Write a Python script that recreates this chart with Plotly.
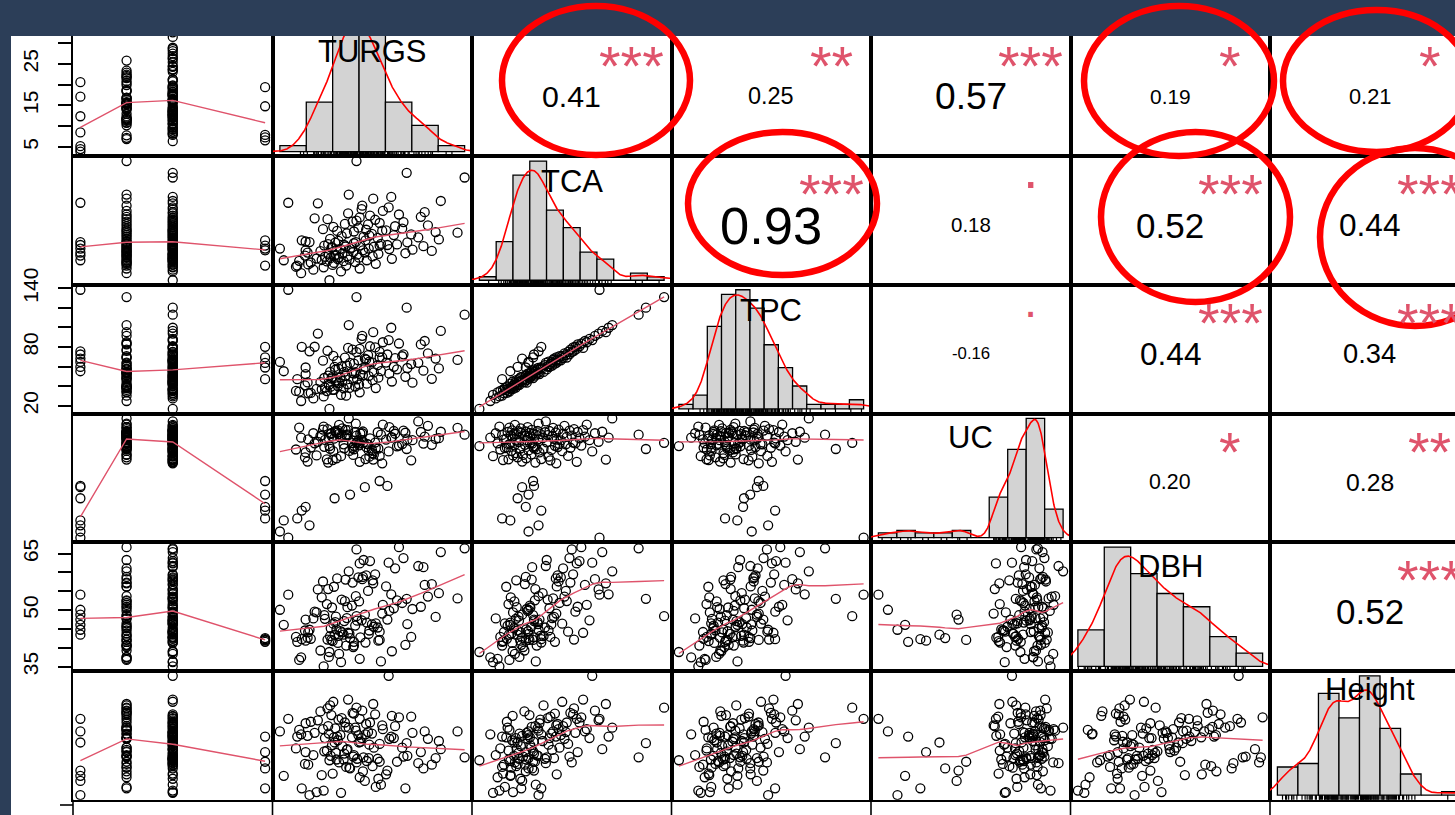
import numpy as np
import plotly.graph_objects as go

# ---------------------------------------------------------------- data ----
GROUP = [1, 1, 1, 1, 1, 1, 1,
         5, 5, 5, 5, 5,
         3, 2, 3, 3, 2, 3, 3, 2, 3, 3, 2,
         2, 3, 2, 3, 3, 2, 3, 3, 2, 3, 3, 3, 2, 3, 3, 2, 3, 3, 2, 3, 3, 2, 3, 3, 2, 3, 2,
         2, 3, 2, 3, 3, 2, 3, 3, 2, 3, 3, 2, 3, 3, 2, 3, 3, 2, 3, 3, 2, 3, 3, 2, 3, 2, 3,
         3, 2, 3, 3, 2, 3, 3, 2, 3, 3, 2, 3, 3, 2, 3, 3, 2, 3, 3, 2,
         3, 3, 2, 3, 3, 2, 3, 3, 2, 3, 3, 2, 3, 3, 2,
         3, 2, 3, 3, 2, 3, 3, 2, 3, 3, 2, 3, 2, 3, 3, 2]

TURGS = [3.9, 4.5, 5.2, 8.5, 12.4, 17.1, 20.6,
         6.6, 7.3, 7.9, 14.8, 19.4,
         11.6, 7.2, 13.4, 9.1, 16.3, 10.7, 6.4, 14.2, 12.1, 8.3, 18.8,
         12.3, 8.7, 15.6, 11.2, 13.8, 6.9, 17.4, 10.4, 14.7, 12.9, 21.3, 9.6, 11.8, 16.2,
         13.1, 10.9, 18.3, 14.4, 7.8, 12.6, 15.9, 11.5, 19.2, 13.6, 23.4, 8.2, 15.3,
         10.2, 27.5, 16.8, 12.7, 24.5, 20.9, 13.3, 17.7, 11.9, 15.1, 12.0, 18.5, 14.1, 26.2,
         10.8, 16.4, 13.9, 22.1, 11.4, 19.6, 15.4, 12.5, 23.7, 15.7, 7.9, 13.0, 17.2,
         28.6, 11.7, 19.1, 25.4, 16.9, 13.5, 17.8, 21.6, 24.3, 18.2, 14.3, 31.5, 28.1, 15.4,
         12.8, 19.8, 20.4, 17.3, 10.6, 22.9,
         16.1, 12.2, 21.8, 26.9, 17.6, 14.0, 19.4, 23.1, 15.2, 15.8, 18.7, 11.3, 9.3, 16.3, 25.8,
         17.9, 22.4, 14.5, 26.4, 19.9, 16.6, 20.8, 16.7, 9.8, 28.9, 18.4, 21.2, 14.6, 32.6, 23.6, 15.8]

TCA = [6.5, 4.5, 14.3, 7.6, 5.3, 5.8, 7.1,
       3.6, 7.9, 6.2, 6.5, 7.0,
       1.1, 2.3, 2.6, 2.9, 3.1, 3.3, 3.4, 3.6, 3.7, 3.8, 3.9,
       4.05, 4.12, 4.2, 4.3, 4.35, 4.4, 4.5, 4.55, 4.6, 4.7, 4.75, 4.8, 4.9, 4.95, 5.0, 5.1,
       5.15, 5.2, 5.3, 5.4, 5.45, 5.5, 5.6, 5.65, 5.7, 5.8, 5.9,
       6.05, 6.1, 6.2, 6.25, 6.3, 6.4, 6.45, 6.5, 6.6, 6.65, 6.7, 6.8, 6.85, 6.9, 7.0, 7.05,
       7.1, 7.2, 7.25, 7.3, 7.4, 7.5, 7.55, 7.6, 7.7, 7.8, 7.9,
       8.05, 8.15, 8.3, 8.4, 8.5, 8.6, 8.7, 8.8, 8.9, 9.0, 9.1, 9.2, 9.3, 9.4, 9.5, 9.55,
       9.6, 9.7, 9.8, 9.9,
       10.05, 10.2, 10.3, 10.45, 10.6, 10.7, 10.85, 11.0, 11.1, 11.25, 11.4, 11.5, 11.65, 11.8, 11.9,
       12.1, 12.3, 12.5, 12.7, 12.9, 13.2, 13.5, 13.8, 14.2, 14.6, 15.0, 15.3, 15.7, 18.6, 19.4, 21.4]

TPC = [64.8, 55.3, 138.5, 75.6, 59.7, 68.2, 72.4,
       47.2, 80.2, 59.1, 63.8, 69.4,
       16.8, 24.9, 31.2, 27.5, 33.8, 29.6, 35.2, 30.3, 36.4, 32.7, 38.1,
       36.2, 33.1, 39.7, 35.0, 37.9, 34.4, 42.6, 36.8, 38.3, 40.1, 44.8, 37.2, 39.5, 41.7,
       43.3, 38.6, 46.2, 42.0, 40.9, 44.5, 47.1, 41.4, 48.7, 45.3, 49.6, 43.9, 46.8,
       44.1, 47.5, 51.2, 46.0, 43.6, 52.8, 48.9, 50.4, 47.8, 53.6, 49.3, 54.2, 50.7, 55.9,
       48.4, 52.1, 54.7, 57.3, 50.9, 55.4, 53.0, 56.8, 58.6, 54.0, 52.4, 57.9, 59.4,
       58.2, 54.6, 61.5, 63.9, 57.1, 60.3, 65.2, 59.8, 62.7, 64.4, 61.1, 66.8, 68.2, 63.0,
       65.9, 69.4, 64.1, 67.3, 66.1, 70.6,
       66.4, 70.9, 68.7, 73.5, 71.8, 69.2, 75.1, 72.6, 77.4, 74.8, 79.6, 76.2, 80.3, 78.1, 82.7,
       80.8, 83.6, 79.1, 86.2, 84.9, 88.4, 87.1, 91.5, 93.8, 96.5, 95.2, 99.7, 102.4, 113.1, 120.2, 131.0]

UC = [43.5, 48.0, 41.0, 46.0, 57.0, 61.5, 62.0,
      48.8, 52.0, 53.5, 58.5, 64.0,
      78.2, 81.6, 74.1, 83.4, 79.3, 86.1, 76.8, 82.7, 72.5, 80.9, 77.4,
      81.2, 77.6, 83.9, 72.8, 78.9, 85.7, 79.1, 82.5, 76.2, 84.6, 81.8, 74.4, 83.1, 78.5,
      86.8, 80.7, 75.3, 82.9, 73.6, 84.2, 79.8, 81.5, 77.2, 85.4, 83.6, 71.9, 74.6,
      82.3, 78.7, 84.1, 73.2, 80.6, 85.9, 81.7, 76.4, 83.5, 79.4, 82.1, 74.8, 84.8, 79.2,
      77.9, 83.3, 77.3, 78.1, 71.5, 82.8, 76.9, 84.4, 80.9, 87.3, 75.6, 83.0, 72.9,
      81.4, 77.1, 83.8, 88.2, 79.7, 82.6, 73.9, 84.3, 72.4, 76.6, 82.2, 85.6, 81.1, 78.3,
      83.7, 71.2, 80.8, 77.8, 84.9, 79.0,
      80.5, 76.1, 83.2, 86.4, 78.9, 81.9, 74.2, 84.5, 77.5, 82.4, 79.6, 85.1, 79.3, 71.8, 83.9,
      81.3, 78.4, 84.7, 82.0, 86.9, 80.6, 76.0, 83.4, 79.9, 84.0, 72.7, 81.6, 89.4, 82.8, 77.0, 79.5]

DBH = [50.1, 46.1, 54.1, 44.8, 43.5, 48.8, 47.5,
       41.6, 42.3, 41.9, 42.6, 42.1,
       38.9, 37.5, 36.2, 47.8, 37.1, 35.1, 42.9, 40.6, 41.8, 44.2, 46.5,
       56.2, 42.4, 45.9, 51.6, 43.5, 36.8, 46.7, 53.4, 43.8, 41.3, 39.1, 49.4, 45.2, 52.3,
       38.4, 47.7, 57.9, 50.8, 44.6, 48.3, 47.2, 37.6, 41.9, 44.1, 40.8, 42.7, 40.2,
       39.3, 56.9, 58.8, 44.9, 50.3, 49.8, 44.4, 43.7, 42.1, 51.2, 50.7, 45.6, 58.1, 61.4,
       48.7, 42.8, 47.1, 52.6, 55.6, 36.4, 40.6, 46.8, 46.3, 53.7, 47.5, 43.2, 41.4,
       54.5, 43.1, 45.4, 61.7, 63.3, 52.8, 44.6, 50.5, 42.9, 46.2, 47.9, 53.1, 48.2, 41.6,
       58.4, 49.1, 56.3, 59.2, 57.6, 51.9,
       58.7, 46.4, 61.1, 53.6, 55.1, 52.4, 44.3, 63.8, 57.3, 66.1, 59.5, 42.2, 49.6, 62.4, 50.9,
       63.0, 66.7, 44.0, 56.7, 51.4, 47.3, 62.6, 58.2, 55.5, 65.4, 57.1, 54.2, 60.3, 66.4, 53.0, 48.4]

HEIGHT = [15.1, 9.1, 16.8, 6.5, 13.6, 8.4, 9.8,
          14.4, 7.4, 12.3, 10.1, 11.0,
          11.2, 14.7, 6.8, 11.9, 8.9, 7.1, 12.8, 10.3, 9.4, 10.6, 7.6,
          14.3, 16.4, 15.6, 12.5, 11.3, 15.3, 11.1, 9.2, 10.2, 13.9, 17.2, 6.9, 11.8, 13.6,
          10.9, 14.2, 10.4, 12.7, 10.7, 12.2, 11.4, 14.8, 8.7, 13.1, 7.4, 14.5, 11.7,
          17.8, 10.6, 9.7, 11.3, 14.9, 14.1, 14.6, 11.5, 17.3, 14.3, 13.2, 12.9, 15.7, 10.1,
          12.4, 13.7, 12.1, 11.0, 15.8, 7.9, 11.9, 15.5, 11.8, 15.2, 16.2, 16.7, 14.7,
          13.8, 18.6, 11.4, 10.8, 11.6, 16.9, 13.3, 14.2, 17.1, 14.8, 12.6, 15.1, 11.5, 17.5,
          14.4, 15.9, 9.3, 16.1, 15.4, 12.9,
          14.6, 19.1, 15.8, 14.1, 15.0, 16.3, 13.4, 11.7, 17.6, 10.9, 17.4, 18.2, 14.9, 16.8, 12.3,
          16.3, 17.0, 19.4, 15.1, 15.4, 14.2, 22.6, 17.9, 16.6, 12.7, 18.8, 14.4, 15.6, 11.6, 13.5, 18.3]

VAR_LABELS = [None, "TURGS", "TCA", "TPC", "UC", "DBH", "Height"]

# Pearson r and significance codes of the upper-triangle panels, row by row
COR_R = [0.41, 0.25, 0.57, 0.19, 0.21,
         0.93, 0.18, 0.52, 0.44,
         -0.16, 0.44, 0.34,
         0.20, 0.28,
         0.52]
COR_SIG = ["***", "**", "***", "*", "*",
           "***", ".", "***", "***",
           ".", "***", "***",
           "*", "**",
           "***"]

# left-hand axis ticks (rows 1, 3, 5); blank labels are the ones R drops
LEFT_TICKS = {
    1: ([5, 10, 15, 20, 25, 30], ["5", "", "15", "", "25", ""]),
    3: ([20, 40, 60, 80, 100, 120, 140], ["20", "", "", "80", "", "", "140"]),
    5: ([35, 40, 45, 50, 55, 60, 65], ["35", "", "", "50", "", "", "65"]),
}

# ------------------------------------------------------------- styling ----
FIG_W, FIG_H = 1455, 815
X0, CW = 73.0, 199.5          # left edge of first column, cell width (px)
Y0, CH = 27.6, 128.7          # top edge of first row, cell height (px)
NAVY = "#2c3e58"
FONT = "Liberation Sans, Arial, sans-serif"
LW = 1.6
BIN_WIDTH = [None, 5, 2, 10, 5, 5, 2]
LABEL_DY = [None, 24.4, 25.4, 25.0, 23.8, 24.3, 18.0]
BASE_CEX = 55.5
GLYPH_EM = {**{d: 0.556 for d in "0123456789"}, ".": 0.278, "-": 0.333}


def px_x(p):
    return p / FIG_W


def px_y(p):
    return 1 - p / FIG_H


def padded(v):
    lo, hi = float(np.min(v)), float(np.max(v))
    d = 0.04 * (hi - lo)
    return [lo - d, hi + d]


def hist_right_closed(v, step):
    lo = np.floor(v.min() / step) * step
    hi = np.ceil(v.max() / step) * step
    edges = np.arange(lo, hi + step / 2, step)
    idx = np.digitize(v, edges, right=True)
    idx[idx == 0] = 1
    counts = np.bincount(idx - 1, minlength=len(edges) - 1)
    return edges, counts / (len(v) * step)


def kde_nrd0(v):
    n = len(v)
    sd = np.std(v, ddof=1)
    q75, q25 = np.percentile(v, [75, 25])
    bw = 0.9 * min(sd, (q75 - q25) / 1.34) * n ** -0.2
    gx = np.linspace(v.min() - 3 * bw, v.max() + 3 * bw, 512)
    z = (gx[:, None] - v[None, :]) / bw
    gd = np.exp(-0.5 * z ** 2).sum(axis=1) / (n * bw * np.sqrt(2 * np.pi))
    return gx, gd


def r_lowess(xin, yin, f=2 / 3, iters=3):
    order = np.argsort(xin, kind="mergesort")
    x = np.asarray(xin, float)[order]
    y = np.asarray(yin, float)[order]
    n = len(x)
    rng = x[-1] - x[0]
    delta = 0.01 * rng
    ns = max(2, min(n, int(f * n + 1e-7)))
    ys = np.zeros(n)
    rw = np.ones(n)

    def lowest(xs, nleft, nright, userw):
        h = max(xs - x[nleft], x[nright] - xs)
        h9, h1 = 0.999 * h, 0.001 * h
        w = np.zeros(n)
        a = 0.0
        j = nleft
        while j < n:
            rr = abs(x[j] - xs)
            if rr <= h9:
                w[j] = 1.0 if rr <= h1 else (1 - (rr / h) ** 3) ** 3
                if userw:
                    w[j] *= rw[j]
                a += w[j]
            elif x[j] > xs:
                break
            j += 1
        nrt = j - 1
        if a <= 0:
            return None
        sl = slice(nleft, nrt + 1)
        w[sl] /= a
        if h > 0:
            a = np.sum(w[sl] * x[sl])
            b = xs - a
            c = np.sum(w[sl] * (x[sl] - a) ** 2)
            if np.sqrt(c) > 0.001 * rng:
                b /= c
                w[sl] *= b * (x[sl] - a) + 1
        return float(np.sum(w[sl] * y[sl]))

    for it in range(iters + 1):
        nleft, nright, last, i = 0, ns - 1, -1, 0
        while True:
            if nright < n - 1:
                if x[i] - x[nleft] > x[nright + 1] - x[i]:
                    nleft += 1
                    nright += 1
                    continue
            v = lowest(x[i], nleft, nright, it > 0)
            ys[i] = y[i] if v is None else v
            if last < i - 1:
                denom = x[i] - x[last]
                for j in range(last + 1, i):
                    al = (x[j] - x[last]) / denom
                    ys[j] = al * ys[i] + (1 - al) * ys[last]
            last = i
            cut = x[last] + delta
            i = last + 1
            while i < n:
                if x[i] > cut:
                    break
                if x[i] == x[last]:
                    ys[i] = ys[last]
                    last = i
                i += 1
            i = max(last + 1, i - 1)
            if last >= n - 1:
                break
        res = y - ys
        if it >= iters:
            break
        sc = np.sum(np.abs(res)) / n
        ar = np.abs(res)
        srt = np.sort(ar)
        m1 = n // 2
        cmad = 3 * (srt[m1] + srt[n - m1 - 1]) if n % 2 == 0 else 6 * srt[m1]
        if cmad < 1e-7 * sc:
            break
        c9, c1 = 0.999 * cmad, 0.001 * cmad
        rw = np.where(ar <= c1, 1.0, np.where(ar <= c9, (1 - (ar / cmad) ** 2) ** 2, 0.0))
    return x, ys


def em_width(s):
    return sum(GLYPH_EM[ch] for ch in s)


VARS = [np.asarray(v, float) for v in (GROUP, TURGS, TCA, TPC, UC, DBH, HEIGHT)]

fig = go.Figure()
axes = {}
ann = []
k = 0
cor_i = 0
W4 = em_width("0.00")

for r in range(1, 7):
    top = Y0 + (r - 1) * CH
    bot = top + CH
    for c in range(7):
        k += 1
        sfx = "" if k == 1 else str(k)
        xref, yref = "x" + sfx, "y" + sfx
        left = X0 + c * CW
        right = left + CW
        vis_right = min(right, FIG_W)
        frac = (vis_right - left) / CW

        if c < r:
            xv, yv = VARS[c], VARS[r]
            xr, yr = padded(xv), padded(yv)
            fig.add_trace(go.Scatter(
                x=xv, y=yv, mode="markers", xaxis=xref, yaxis=yref, hoverinfo="skip",
                marker=dict(symbol="circle-open", size=9, color="black", line=dict(width=1.3))))
            lx, ly = r_lowess(xv, yv)
            fig.add_trace(go.Scatter(
                x=lx, y=ly, mode="lines", xaxis=xref, yaxis=yref, hoverinfo="skip",
                line=dict(color="#DF536B", width=1.4)))
        elif c == r:
            v = VARS[r]
            step = BIN_WIDTH[r]
            edges, dens = hist_right_closed(v, step)
            span = edges[-1] - edges[0]
            xr = [edges[0] - 0.04 * span, edges[-1] + 0.04 * span]
            m = dens.max()
            yr = [-0.04 * m, 1.04 * m]
            fig.add_trace(go.Bar(
                x=(edges[:-1] + edges[1:]) / 2, y=dens, width=step, xaxis=xref, yaxis=yref,
                hoverinfo="skip",
                marker=dict(color="#D3D3D3", line=dict(color="black", width=1.3))))
            gx, gd = kde_nrd0(v)
            fig.add_trace(go.Scatter(
                x=gx, y=gd, mode="lines", xaxis=xref, yaxis=yref, hoverinfo="skip",
                line=dict(color="red", width=1.6)))
            rug_y = yr[0] + (2.0 / CH) * (yr[1] - yr[0])
            fig.add_trace(go.Scatter(
                x=v, y=[rug_y] * len(v), mode="markers", xaxis=xref, yaxis=yref,
                hoverinfo="skip",
                marker=dict(symbol="line-ns", size=4, line=dict(color="black", width=1.2))))
            ann.append(dict(
                text=VAR_LABELS[r], x=px_x(left + CW / 2), y=px_y(top + LABEL_DY[r]),
                xref="paper", yref="paper", xanchor="center", yanchor="middle",
                showarrow=False, font=dict(family=FONT, size=31, color="black")))
        else:
            xr, yr = [0.0, 1.0], [0.0, 1.0]
            fig.add_trace(go.Scatter(
                x=[0.5], y=[0.5], mode="markers", xaxis=xref, yaxis=yref, hoverinfo="skip",
                marker=dict(opacity=0)))
            rv = COR_R[cor_i]
            sig = COR_SIG[cor_i]
            cor_i += 1
            txt = f"{rv:.2f}"
            scale = W4 / em_width(txt)
            fs_num = BASE_CEX * (abs(rv) + 0.3) / 1.3 * scale
            fs_sig = BASE_CEX * scale
            ny = top + 0.5 * CH + 4 + 0.0115 * fs_num
            ann.append(dict(
                text=txt, x=px_x(left + 0.5 * CW), y=px_y(ny), xref="paper", yref="paper",
                xanchor="center", yanchor="middle", showarrow=False,
                font=dict(family=FONT, size=fs_num, color="black")))
            ref_y = bot - 0.8 * CH
            if sig == ".":
                sy = ref_y + 3.5 - 0.2965 * fs_sig
            else:
                sy = ref_y - 0.5 + 0.2285 * fs_sig
            ann.append(dict(
                text=sig, x=px_x(left + 0.8 * CW), y=px_y(sy), xref="paper", yref="paper",
                xanchor="center", yanchor="middle", showarrow=False,
                font=dict(family=FONT, size=fs_sig, color="#DF536B")))

        xr = [xr[0], xr[0] + (xr[1] - xr[0]) * frac]
        xa = dict(domain=[px_x(left), px_x(vis_right)], range=xr, anchor=yref,
                  showline=True, mirror=True, linecolor="black", linewidth=LW,
                  showgrid=False, zeroline=False, showticklabels=False, ticks="",
                  fixedrange=True, automargin=False)
        ya = dict(domain=[px_y(bot), px_y(top)], range=yr, anchor=xref,
                  showline=True, mirror=(right <= FIG_W), linecolor="black", linewidth=LW,
                  showgrid=False, zeroline=False, showticklabels=False, ticks="",
                  fixedrange=True, automargin=False)
        if c == 0 and r in LEFT_TICKS:
            tv, tt = LEFT_TICKS[r]
            ya.update(ticks="outside", ticklen=13, tickwidth=LW, tickcolor="black",
                      tickvals=tv, ticktext=tt, showticklabels=True, tickangle=-90,
                      ticklabelstandoff=12,
                      tickfont=dict(family=FONT, size=21, color="black"))
        axes["xaxis" + sfx] = xa
        axes["yaxis" + sfx] = ya

# frame around the figure, the red highlight rings, and the edge of the next row
shapes = [
    dict(type="rect", xref="paper", yref="paper", x0=0, x1=px_x(11), y0=0, y1=1,
         fillcolor=NAVY, line=dict(width=0), layer="above"),
    dict(type="rect", xref="paper", yref="paper", x0=0, x1=1, y0=px_y(36), y1=1,
         fillcolor=NAVY, line=dict(width=0), layer="above"),
]
RINGS = [(502, 6, 690, 155), (688, 132, 877, 275), (1084, 6, 1274, 156),
         (1283, 10, 1470, 152), (1101, 132, 1290, 302), (1320, 148, 1510, 326)]
for (a, b, cc, d) in RINGS:
    shapes.append(dict(type="circle", xref="paper", yref="paper",
                       x0=px_x(a), x1=px_x(cc), y0=px_y(d), y1=px_y(b),
                       line=dict(color="#ff0000", width=6.5), layer="above"))
y_last = Y0 + 6 * CH
for c in range(8):
    xp = X0 + c * CW
    if xp <= FIG_W:
        shapes.append(dict(type="line", xref="paper", yref="paper",
                           x0=px_x(xp), x1=px_x(xp), y0=px_y(y_last), y1=0,
                           line=dict(color="black", width=LW)))
shapes.append(dict(type="line", xref="paper", yref="paper", x0=px_x(60), x1=px_x(X0),
                   y0=px_y(805), y1=px_y(805), line=dict(color="black", width=LW)))

fig.update_layout(
    width=FIG_W, height=FIG_H, margin=dict(l=0, r=0, t=0, b=0, pad=0, autoexpand=False),
    paper_bgcolor="white", plot_bgcolor="white", showlegend=False,
    font=dict(family=FONT), shapes=shapes, annotations=ann, **axes)

fig.write_html("out.html")
